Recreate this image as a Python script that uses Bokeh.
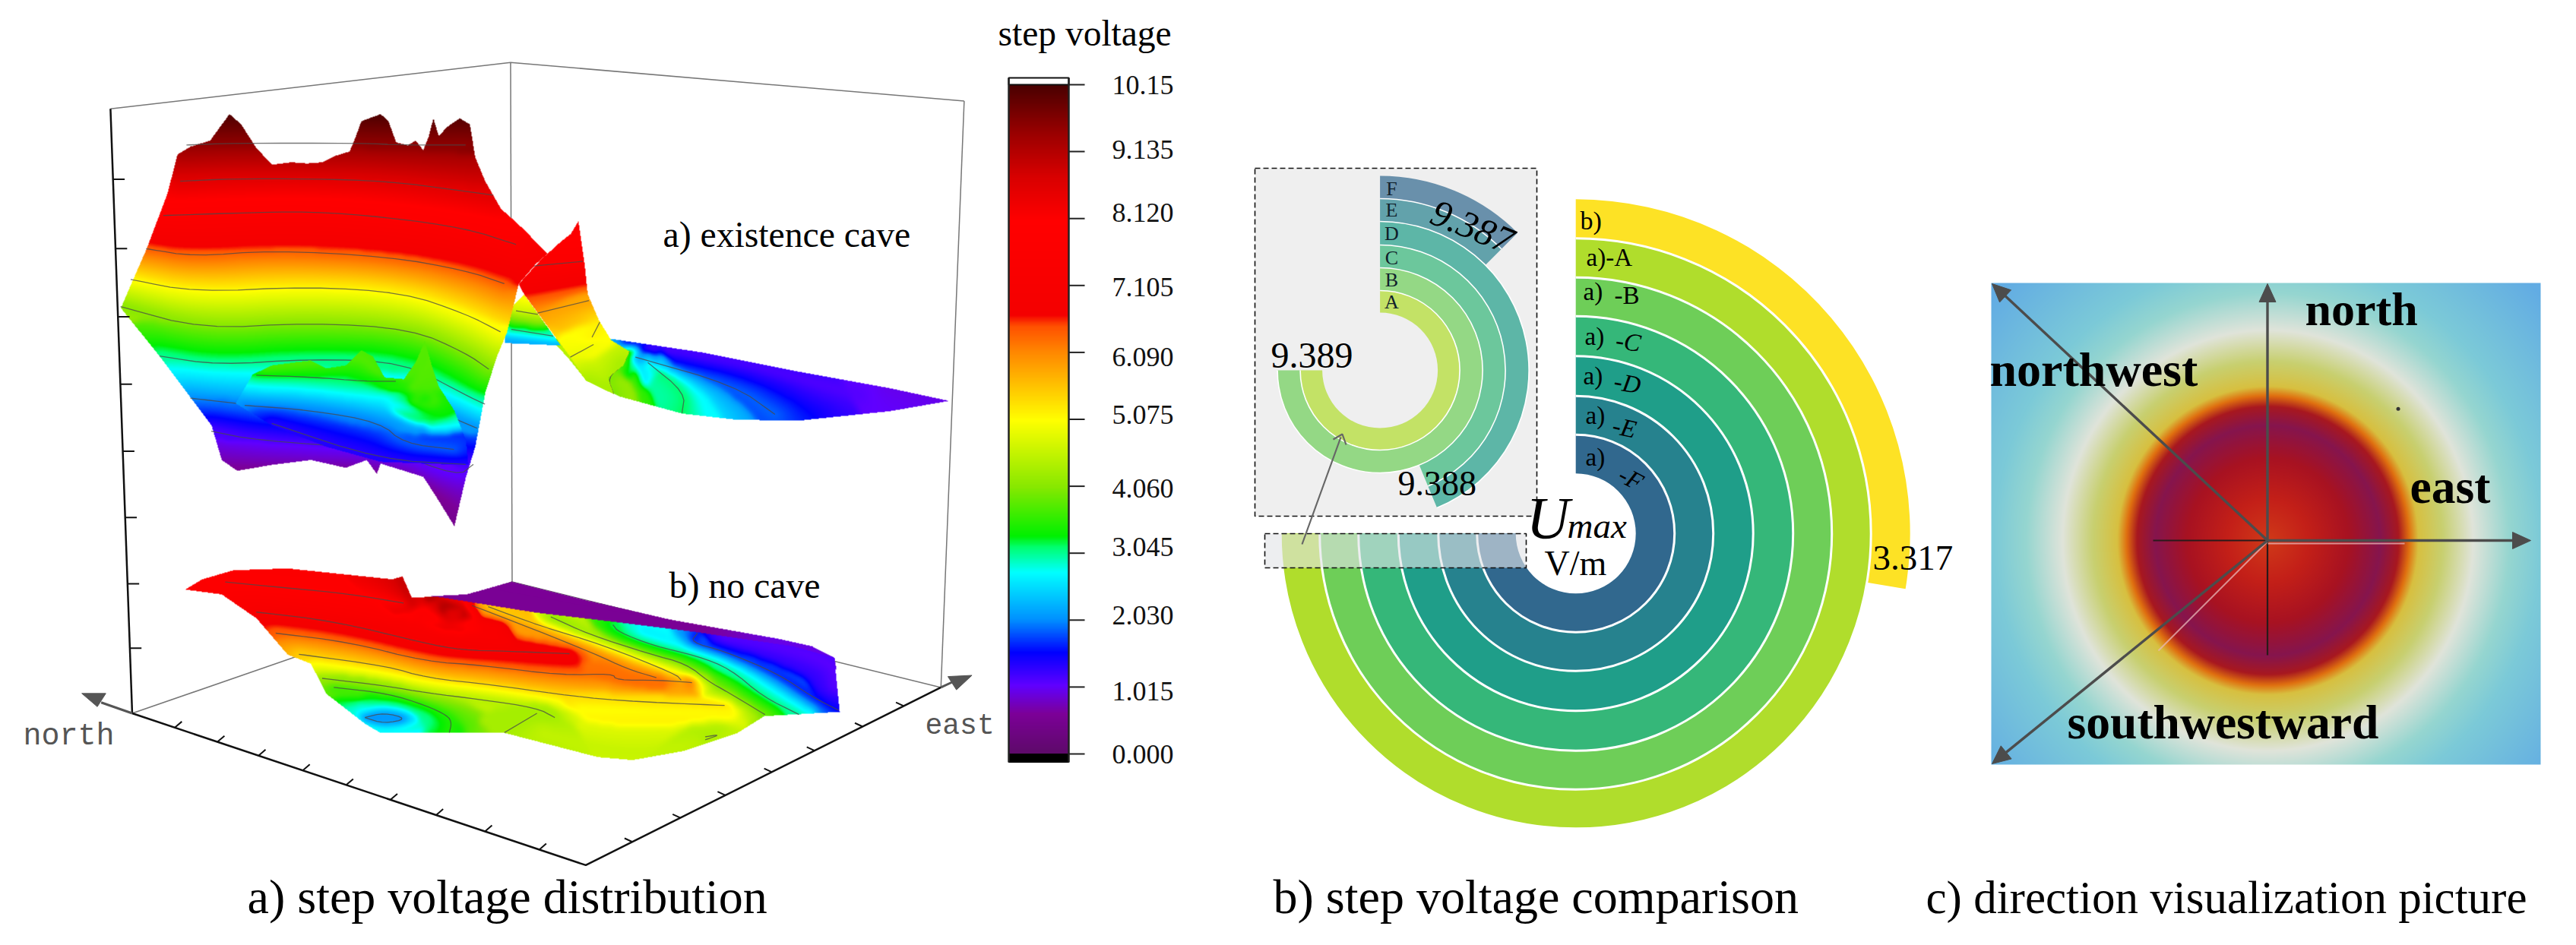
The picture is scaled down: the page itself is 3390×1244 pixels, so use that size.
import numpy as np
from bokeh.plotting import figure
from bokeh.models import Range1d, LinearColorMapper
from bokeh.core.properties import value
from bokeh.embed import file_html
from bokeh.resources import INLINE

SERIF = value("Liberation Serif")
MONO = value("Liberation Mono")

# ---------- colour scale ----------
cbar_ticks = [0.000, 1.015, 2.030, 3.045, 4.060, 5.075, 6.090, 7.105, 8.120, 9.135, 10.15]
cbar_labels = ["0.000", "1.015", "2.030", "3.045", "4.060", "5.075", "6.090", "7.105", "8.120", "9.135", "10.15"]
cbar_label_y = [992, 909, 809.5, 719, 642, 545, 469, 377, 279, 196, 111]
cmap_values = [0, 0.6, 1.03, 1.53, 2.03, 2.75, 3.13, 3.30, 4.05, 5.06, 6.09, 6.49, 6.66, 8.09, 8.76, 9.43, 10.15]
cmap_colors = ["#5e0a6a", "#7c0098", "#6000ff", "#0000ff", "#0090ff", "#00ffff", "#00ff70", "#00f000",
               "#88e800", "#ffff00", "#ff8800", "#ff5000", "#f40000", "#ff0000", "#d80000", "#990000", "#4a0000"]

# ---------- surfaces: outlines and iso-voltage lines, (value, xs, ys, drawn) ----------
tail_outline = [(655,560),(787,561),(907,584),(1027,615),(1147,643),(1223,664),(1147,681),(1027,697),(947,695),(879,685),
                (799,657),(755,630),(730,590),(700,550),(655,565)]
tail_lines = [
 (4.6,[740,775],[570,640],False),
 (3.9,[811,803,783,791],[582,605,626,653],True),
 (3.2,[835,883,879],[601,651,685],True),
 (2.7,[851,899,915],[601,647,689],False),
 (1.9,[819,947,999],[592,639,687],True),
 (1.5,[867,987,1051],[597,630,685],False),
 (1.1,[807,947,1107],[567,597,655],False),
 (0.95,[1147,1223],[643,664],False),
]
notch_outline = [(650,520),(675,487),(722,572),(650,568)]
notch_lines = [(5.2,[672,680],[487,490],False),(4.6,[665,693],[515,521],True),(3.2,[659,713],[546,557],True),
               (2.0,[653,717],[565,571],False)]
peak_outline = [(668,470),(700,425),(705,420),(723,399),(735,387),(745,366),(753,437),(757,487),(771,529),(787,563),
                (811,582),(803,605),(783,626),(791,653),(755,630),(735,592),(705,540),(675,487)]
peak_lines = [
 (8.2,[735,750],[385,370],False),
 (7.6,[685,751],[441,433],True),
 (5.9,[693,759],[519,498],True),
 (5.2,[763,773],[559,534],True),
 (4.9,[735,765],[592,571],True),
 (4.3,[755,790,800],[630,650,600],False),
]
sheet_outline = [(155,510),(170,465),(188,412),(215,320),(228,255),(245,242),(270,232),(295,188),(310,205),(330,245),
                 (350,272),(375,268),(395,270),(415,268),(430,258),(450,250),(458,225),(465,200),(490,188),(500,200),
                 (510,235),(525,240),(535,232),(545,248),(552,225),(558,195),(565,225),(575,210),(592,195),(605,205),
                 (612,260),(625,300),(645,345),(665,368),(675,380),(705,420),(690,437),(668,470),(653,550),(640,590),
                 (625,650),(612,740),(600,790),(585,872),(565,830),(545,790),(490,768),(485,785),(472,762),(445,775),
                 (400,762),(350,770),(305,780),(285,762),(272,705),(240,650),(205,590)]
sheet_lines = [
 (10.1,[280,300,470,500,590,610],[190,190,190,190,190,190],False),
 (9.5,[240,300,465,520,600],[240,237,237,240,240],True),
 (8.6,[232,300,400,500,590,635],[300,296,296,300,315,323],True),
 (7.7,[210,300,400,500,600,665],[357,353,350,360,378,405],True),
 (6.4,[188,250,350,500,600,650],[412,425,415,425,448,470],True),
 (5.1,[168,250,400,520,600,645],[463,484,475,485,520,550],True),
 (4.0,[155,260,400,530,600,630],[508,545,535,545,585,612],True),
 (3.0,[205,280,400,520,600,625],[590,605,595,600,655,670],True),
 (2.0,[245,300,450,560,615],[660,668,690,680,710],True),
 (1.1,[272,330,500,590,610],[715,730,745,790,770],True),
 (0.45,[285,400,480,545,590],[790,790,790,810,880],False),
]
cave_outline = [(303,668),(325,620),(350,605),(380,600),(400,597),(420,610),(445,605),(465,580),(480,590),(495,625),
                (520,628),(535,600),(547,565),(557,610),(565,640),(585,680),(600,730),(603,770),(590,770),(490,765),
                (420,740),(350,705)]
cave_lines = [
 (3.8,[340,400,465,490,525,547],[610,600,585,625,630,570],False),
 (3.2,[330,400,470,510],[622,625,632,632],True),
 (2.6,[320,400,500,530],[645,650,670,675],False),
 (3.7,[530,548,566,530],[670,640,670,670],False),
 (1.9,[315,400,490,520,585],[672,680,700,735,745],True),
 (1.3,[350,490,600],[702,762,770],True),
]
back_outline = [(555,988),(601,985),(659,964),(759,996),(864,1027),(1004,1059),(1046,1071),(1075,1090),(1078,1110),
                (1021,1075),(899,1052),(794,1035),(689,1019),(563,993)]
back_lines = [(0.55,[555,900],[988,1045],False),(0.95,[1000,1078],[1065,1100],False)]
low_outline = [(238,977),(260,960),(300,945),(370,942),(430,950),(505,960),(518,955),(530,990),(563,989),(689,1015),
               (794,1031),(899,1048),(1021,1071),(1075,1090),(1082,1180),(985,1187),(950,1215),(880,1245),(815,1260),
               (770,1255),(650,1215),(490,1215),(470,1200),(420,1150),(400,1100),(370,1085),(330,1025),(285,985)]
low_lines = [
 (8.0,[290,370,450,520],[965,975,985,1000],True),
 (7.5,[540,640],[1020,1040],False),
 (7.0,[330,430,549,594,654,734],[1015,1030,1067,1078,1080,1084],True),
 (6.3,[355,450,549,619,724,790,794,850,892],[1050,1065,1097,1103,1120,1117,1128,1128,1132],True),
 (6.2,[608,689,766,808,846],[1004,1044,1084,1109,1124],True),
 (5.3,[629,696,776,871,878],[1006,1038,1069,1118,1128],True),
 (5.4,[385,500,549,636,717,794,934],[1085,1105,1124,1136,1151,1162,1170],True),
 (4.3,[415,500,549,619,692,715],[1125,1138,1149,1160,1174,1190],True),
 (4.3,[692,650],[1183,1215],True),
 (4.3,[909,929,909],[1222,1218,1227],True),
 (5.0,[750,950],[1175,1180],False),
 (4.55,[700,815,950],[1215,1258,1215],False),
 (3.5,[430,500,549,577,582,579],[1140,1150,1170,1187,1199,1215],True),
 (3.0,[450,500,560,530,470,450],[1180,1165,1190,1208,1210,1180],False),
 (1.9,[470,495,525,495,470],[1190,1182,1192,1200,1190],True),
 (4.0,[710,759,836,885,913,937,986],[1023,1052,1084,1101,1130,1147,1185],True),
 (3.1,[790,797,843,899,941,983,1030],[1036,1048,1071,1088,1109,1155,1185],True),
 (2.6,[829,899,969,1039],[1046,1076,1113,1176],False),
 (1.5,[899,890,934,1004,1046,1081],[1050,1065,1080,1118,1155,1178],True),
 (1.05,[934,1021,1075,1077],[1055,1076,1101,1139],False),
 (9.3,[570,600,600,570,570],[1004,1004,1027,1027,1004],False),
 (9.0,[517,525,530],[960,990,1000],False),
]

# ---------- panel a frame ----------
wall_ticks_y = [297, 412, 525, 637, 748, 858, 968, 1075]
north_ticks_x = [225, 280, 333, 390, 446, 503, 562, 625, 695]
east_ticks_x = [815, 877, 935, 995, 1050, 1112, 1165]

# ---------- panel b data ----------
ring_names = ["F", "E", "D", "C", "B", "A"]
ring_values = [9.387, 9.387, 9.388, 9.388, 9.389, 9.389]
no_cave_value = 3.317
ring_colors = ["#31688e", "#26828e", "#1f9e89", "#35b779", "#6ece58", "#b0dd2c"]
no_cave_color = "#fde225"

# ---------- panel c: radial colour profile ----------
radial_r = [0, 53, 106, 148, 172, 186, 198, 230, 270, 318, 360, 480]
radial_colors = ["#d03a18", "#c42018", "#a81222", "#86154e", "#a81820", "#e07010", "#d8c040", "#c8d070",
                 "#e0e4da", "#96d6d0", "#7ccad8", "#62ace4"]

def hex_rgb(h):
    return [int(h[i:i + 2], 16) for i in (1, 3, 5)]

ramp = np.linspace(0, 10.15, 1024)
cm = np.array([hex_rgb(c) for c in cmap_colors], float)
palette = ["#%02x%02x%02x" % tuple(int(round(np.interp(v, cmap_values, cm[:, k]))) for k in range(3)) for v in ramp]
mapper = LinearColorMapper(palette=palette, low=0, high=10.15, nan_color="rgba(0,0,0,0)")

W, H = 3374, 1228
SX, SY = 0.98, 1.2605
p = figure(width=W, height=H, x_range=Range1d(0, W), y_range=Range1d(H, 0),
           x_axis_type=None, y_axis_type=None, toolbar_location=None, output_backend="svg",
           min_border=0, outline_line_color=None, background_fill_color="white")
p.grid.visible = False
p.extra_x_ranges["a"] = Range1d(0, W * SX)
p.extra_y_ranges["a"] = Range1d(H * SY, 0)
RX, RY = 2073.2, 701.8
IX, IY = 1815.6, 487.0
p.extra_x_ranges["rings"] = Range1d(-RX, W - RX)
p.extra_y_ranges["rings"] = Range1d(RY - H, RY)
p.extra_x_ranges["inset"] = Range1d(-IX, W - IX)
p.extra_y_ranges["inset"] = Range1d(IY - H, IY)
A = dict(x_range_name="a", y_range_name="a")

def in_poly(X, Y, poly):
    inside = np.zeros(X.shape, bool)
    n = len(poly)
    for i in range(n):
        x0, y0 = poly[i]
        x1, y1 = poly[(i + 1) % n]
        if y0 == y1:
            continue
        cond = (y0 > Y) != (y1 > Y)
        inside ^= cond & (X < (x1 - x0) * (Y - y0) / (y1 - y0) + x0)
    return inside

def chaikin(xs, ys, n=2):
    P = np.c_[xs, ys].astype(float)
    for _ in range(n):
        if len(P) < 3:
            break
        Q = 0.75 * P[:-1] + 0.25 * P[1:]
        S = 0.25 * P[:-1] + 0.75 * P[1:]
        M = np.empty((2 * len(Q), 2))
        M[0::2], M[1::2] = Q, S
        P = np.vstack([P[:1], M, P[-1:]])
    return P[:, 0], P[:, 1]

def sample(xs, ys, step=9):
    out = []
    for i in range(len(xs) - 1):
        n = max(2, int(np.hypot(xs[i + 1] - xs[i], ys[i + 1] - ys[i]) / step))
        t = np.arange(n) / n
        out.append(np.c_[xs[i] + (xs[i + 1] - xs[i]) * t, ys[i] + (ys[i + 1] - ys[i]) * t])
    out.append(np.array([[xs[-1], ys[-1]]], float))
    return np.vstack(out)

def soften(a, passes=2):
    for _ in range(passes):
        b = np.pad(a, 1, mode="edge")
        a = (b[1:-1, :-2] + b[1:-1, 1:-1] + b[1:-1, 2:]) / 3
        b = np.pad(a, 1, mode="edge")
        a = (b[:-2, 1:-1] + b[1:-1, 1:-1] + b[2:, 1:-1]) / 3
    return a

def draw_surface(outline, lines):
    poly = np.array(outline, float)
    x0, x1 = poly[:, 0].min() / SX, poly[:, 0].max() / SX
    y0, y1 = poly[:, 1].min() / SY, poly[:, 1].max() / SY
    x0, y0 = int(x0), int(y0)
    w, h = int(x1) - x0 + 2, int(y1) - y0 + 2
    st = 3
    cx = (x0 + np.arange(w // st + 2) * st) * SX
    cy = (y0 + np.arange(h // st + 2) * st) * SY
    CX, CY = np.meshgrid(cx, cy)
    dists = []
    for v, xs, ys, _ in lines:
        pts = sample(*chaikin(xs, ys))
        d = np.sqrt((CX[..., None] - pts[:, 0]) ** 2 + (CY[..., None] - pts[:, 1]) ** 2).min(axis=2)
        dists.append(d)
    D = np.stack(dists)
    vals = np.array([l[0] for l in lines])
    order = np.argsort(D, axis=0)
    i1, i2 = order[0], order[1]
    d1 = np.take_along_axis(D, i1[None], 0)[0]
    d2 = np.take_along_axis(D, i2[None], 0)[0]
    coarse = soften((vals[i1] * d2 + vals[i2] * d1) / (d1 + d2 + 1e-6))
    fx, fy = np.arange(w) / st, np.arange(h) / st
    ix = np.minimum(fx.astype(int), coarse.shape[1] - 2)
    iy = np.minimum(fy.astype(int), coarse.shape[0] - 2)
    tx, ty = (fx - ix)[None, :], (fy - iy)[:, None]
    c00 = coarse[np.ix_(iy, ix)]
    c01 = coarse[np.ix_(iy, ix + 1)]
    c10 = coarse[np.ix_(iy + 1, ix)]
    c11 = coarse[np.ix_(iy + 1, ix + 1)]
    field = (c00 * (1 - tx) + c01 * tx) * (1 - ty) + (c10 * (1 - tx) + c11 * tx) * ty
    PX, PY = np.meshgrid((x0 + np.arange(w)) * SX, (y0 + np.arange(h)) * SY)
    field[~in_poly(PX, PY, outline)] = np.nan
    p.image(image=[field], x=x0, y=y0, dw=w, dh=h, color_mapper=mapper)
    px, py = [], []
    for v, xs, ys, drawn in lines:
        if drawn:
            sx, sy = chaikin(xs, ys)
            px.append(sx.tolist())
            py.append(sy.tolist())
    if px:
        p.multi_line(px, py, line_color="#4a4a4a", line_width=1.3, line_alpha=0.75, **A)

# ----- back walls and floor
p.line([142, 658, 1243], [180, 103, 167], line_color="#777777", line_width=1.5, **A)
p.line([658, 660], [103, 965], line_color="#777777", line_width=1.5, **A)
p.line([1243, 1213], [167, 1140], line_color="#777777", line_width=1.5, **A)
p.line([170, 660, 1213], [1183, 965, 1140], line_color="#777777", line_width=1.5, **A)

for outline, lines in [(tail_outline, tail_lines), (notch_outline, notch_lines), (peak_outline, peak_lines),
                       (sheet_outline, sheet_lines), (cave_outline, cave_lines), (back_outline, back_lines),
                       (low_outline, low_lines)]:
    draw_surface(outline, lines)

# ----- front frame
p.line([142, 170], [180, 1183], line_color="#111111", line_width=2.5, **A)
p.line([170, 755, 1213], [1183, 1435, 1140], line_color="#111111", line_width=2.5, **A)
wx = [142 + (y - 180) * 28 / 1003 for y in wall_ticks_y]
p.segment(wx, wall_ticks_y, [x + 15 for x in wx], wall_ticks_y, line_color="#111111", line_width=2, **A)
ny = [1183 + (x - 170) * 252 / 585 for x in north_ticks_x]
p.segment(north_ticks_x, ny, [x + 9 for x in north_ticks_x], [y - 10 for y in ny], line_color="#111111", line_width=2, **A)
ey = [1435 - (x - 755) * 295 / 458 for x in east_ticks_x]
p.segment(east_ticks_x, ey, [x - 10 for x in east_ticks_x], [y - 6 for y in ey], line_color="#111111", line_width=2, **A)
p.line([170, 130], [1183, 1165], line_color="#555555", line_width=3, **A)
p.line([1213, 1228], [1140, 1131], line_color="#555555", line_width=3, **A)
p.patches([[105, 136, 125], [1253, 1222, 1233]], [[1150, 1150, 1172], [1120, 1122, 1144]], fill_color="#555555", line_color="#555555", **A)

def label(x, y, t, size, font=SERIF, style="normal", color="black", baseline="alphabetic", align="left", angle=0):
    if baseline == "alphabetic":
        y = y - 0.33 * size
    p.text([x], [y], [t], text_font=font, text_font_size=f"{size}px", text_font_style=style, text_color=color,
           text_baseline=baseline, text_align=align, angle=angle, angle_units="deg")

label(325, 1201, "a) step voltage distribution", 64)
label(30, 982, "north", 40, font=MONO, color="#555555")
label(1217, 968, "east", 38, font=MONO, color="#555555")
label(872, 324, "a) existence cave", 47.7)
label(880, 786, "b) no cave", 47.8)
label(1313, 59, "step voltage", 47.5)

# ----- colour bar
bar_y = lambda v: 992 - np.asarray(v) / 10.15 * 881
bar_vals = np.linspace(10.15, 0, 881)[:, None]
p.image(image=[bar_vals], x=1327, y=111, dw=79, dh=881, color_mapper=mapper)
p.quad(left=[1327], right=[1406], top=[102], bottom=[111], fill_color="white", line_color="#111111", line_width=2)
p.quad(left=[1327], right=[1406], top=[992], bottom=[1003], fill_color="#000000", line_color="#000000")
p.segment([1327, 1406], [102, 102], [1327, 1406], [1003, 1003], line_color="#222222", line_width=2.5)
p.segment([1406] * 11, bar_y(cbar_ticks), [1427] * 11, bar_y(cbar_ticks), line_color="#222222", line_width=2)
p.text([1463] * 11, cbar_label_y, cbar_labels, text_font=SERIF, text_font_size="36px", text_baseline="middle", text_color="#111111")

# ----- panel b main rings
R = dict(x_range_name="rings", y_range_name="rings")
main_inner = [79, 130, 181, 233.5, 286, 337, 388.5, 440]
main_sweep = lambda v: np.radians(6.4 + 28.08 * np.asarray(v))
mv = list(ring_values) + [no_cave_value]
mc = ring_colors + [no_cave_color]
s_main = main_sweep(mv)
p.annular_wedge(x=0, y=0, inner_radius=main_inner[:-1], outer_radius=main_inner[1:], start_angle=np.pi / 2 - s_main,
                end_angle=np.pi / 2, fill_color=mc, line_color=None, **R)
p.arc(x=0, y=0, radius=main_inner[1:-1], start_angle=np.pi / 2 - s_main[:-1], end_angle=np.pi / 2, line_color="white", line_width=3, **R)

# ----- inset
p.quad(left=[1651], right=[2022], top=[221], bottom=[679], fill_color="#efefef", line_color="#111111", line_width=1.6, line_dash="7 4")
INS = dict(x_range_name="inset", y_range_name="inset")
inset_inner = [76, 105, 135, 165, 196, 226, 256][::-1]
inset_sweep = lambda v: np.radians(45 + 112500 * (np.asarray(v) - 9.387))
s_ins = inset_sweep(ring_values)
p.annular_wedge(x=0, y=0, inner_radius=inset_inner[1:], outer_radius=inset_inner[:-1], start_angle=np.pi / 2 - s_ins,
                end_angle=np.pi / 2, fill_color=ring_colors, fill_alpha=0.7, line_color=None, **INS)
p.arc(x=0, y=0, radius=inset_inner[1:-1], start_angle=np.pi / 2 - s_ins[1:], end_angle=np.pi / 2, line_color="white", line_width=1.6, **INS)
p.quad(left=[1664], right=[2008], top=[702], bottom=[747], fill_color="#e2e3e6", fill_alpha=0.62, line_color="#111111", line_width=1.6, line_dash="7 4")
p.segment([1713], [716], [1764], [575], line_color="#666666", line_width=2.2)
p.line([1754, 1766, 1771], [578, 571, 585], line_color="#666666", line_width=2.2)

for t, yy in zip(ring_names, [248, 276, 307, 339, 368, 397]):
    label(1831, yy, t, 26, baseline="middle", align="center", color="#10202a")
label(2079, 290, "b)", 34, baseline="middle")
label(2087, 338, "a)-A", 33, baseline="middle")
for t1, x1, y1, t2, x2, y2, ang in [("a)", 2083, 383, "-B", 2124, 388, 0),
                                    ("a)", 2085, 442, "-C", 2126, 447, -8),
                                    ("a)", 2083, 494, "-D", 2124, 501, -10),
                                    ("a)", 2086, 546, "-E", 2122, 559, -12),
                                    ("a)", 2086, 601, "-F", 2132, 622, -28)]:
    label(x1, y1, t1, 33, baseline="middle")
    label(x2, y2, t2, 33, baseline="middle", style="italic" if t2 != "-B" else "normal", angle=ang)
label(1937, 298, "9.387", 50, style="italic", baseline="middle", align="center", angle=-22)
label(1672, 483, "9.389", 48)
label(1839, 651, "9.388", 46)
label(2464, 750, "3.317", 47)
label(2008, 707, "U", 79, style="italic")
label(2062, 707, "max", 47, style="italic")
label(2032, 756, "V/m", 46)
label(1675, 1201, "b) step voltage comparison", 64)

# ----- panel c
cx0, cy0 = 2983.5, 710.5
gx, gy = np.meshgrid(np.arange(2620, 3343), np.arange(372, 1006))
rr = np.hypot(gx - cx0, (gy - cy0) / 1.025)
rc = np.array([hex_rgb(c) for c in radial_colors], float)
rgba = np.zeros(rr.shape + (4,), dtype=np.uint8)
for k in range(3):
    rgba[..., k] = np.interp(rr, radial_r, rc[:, k])
rgba[..., 3] = 255
p.image_rgba(image=[rgba.view(np.uint32).reshape(rr.shape)], x=2620, y=372, dw=723, dh=634)

def arrow(x1, y1, x2, y2):
    u = np.array([x2 - x1, y2 - y1], float)
    u /= np.hypot(*u)
    n = np.array([-u[1], u[0]])
    b = np.array([x2, y2]) - u * 24
    p.segment([x1], [y1], [b[0]], [b[1]], line_color="#4c4c4c", line_width=3.4)
    p.patch([x2, b[0] + n[0] * 11, b[0] - n[0] * 11], [y2, b[1] + n[1] * 11, b[1] - n[1] * 11], fill_color="#4c4c4c", line_color="#4c4c4c")

p.segment([2833, 2983.5], [711, 711], [2983.5, 2983.5], [711, 862], line_color="#2a1a1a", line_width=2.2)
p.segment([2984, 2983], [715, 713], [3164, 2840], [715, 856], line_color="#e8b8b8", line_width=2, line_alpha=0.75)
for x2, y2 in [(2983.5, 373), (3330, 711), (2621, 373), (2621, 1005)]:
    arrow(2983.5, 711, x2, y2)
p.scatter([3155.5], [537.8], size=5, fill_color="#333333", line_color=None)
label(3033, 427, "north", 62, style="bold")
label(2618, 507, "northwest", 64, style="bold")
label(3171, 661, "east", 63.5, style="bold")
label(2720, 971, "southwestward", 63.6, style="bold")
label(2534, 1201, "c) direction visualization picture", 61)

open("out.html", "w").write(file_html(p, INLINE))
